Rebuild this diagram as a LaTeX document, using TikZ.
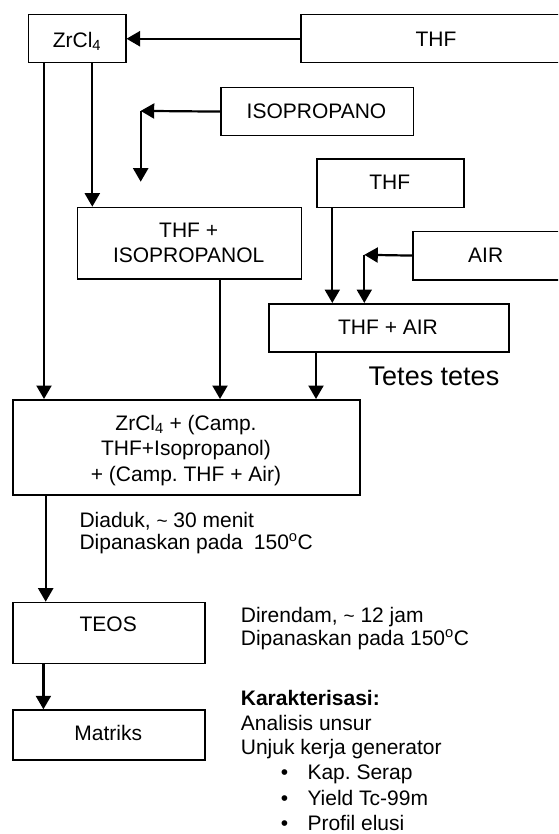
\documentclass[tikz,border=0pt]{standalone}
\usepackage{fontspec}
\setmainfont{Liberation Sans}
\usetikzlibrary{arrows.meta,calc}
\frenchspacing
\begin{document}
\begin{tikzpicture}[x=1pt,y=-1pt,
  box/.style={draw,line width=1.5pt,rectangle,inner sep=0pt,anchor=north west},
  txt/.style={inner sep=0pt,font=\fontsize{21}{24}\selectfont\frenchspacing},
  big/.style={inner sep=0pt,font=\fontsize{27}{30}\selectfont},
  arr/.style={line width=2.2pt,-{Triangle[width=15pt,length=13.5pt]}}]
\useasboundingbox (0,0) rectangle (558,834);
\clip (0,0) rectangle (558,834);

% boxes
\node[box,minimum width=97.3pt,minimum height=48pt] (zr) at (27.7,14) {};
\node[box,minimum width=290pt,minimum height=48pt] (thf) at (300,14) {};
\node[box,minimum width=192.8pt,minimum height=48.3pt] (iso) at (220,86.7) {};
\node[box,minimum width=147.3pt,minimum height=48.4pt] (thfb) at (316,158.3) {};
\node[box,minimum width=224pt,minimum height=71.6pt] (thiso) at (76.7,206.7) {};
\node[box,minimum width=180pt,minimum height=48.3pt] (air) at (412.3,230.7) {};
\node[box,minimum width=240pt,minimum height=48pt] (thair) at (268.3,303) {};
\node[box,minimum width=347pt,minimum height=95.3pt] (main) at (12.3,399) {};
\node[box,minimum width=191.7pt,minimum height=61pt] (teos) at (12.3,601.7) {};
\node[box,minimum width=191.7pt,minimum height=49.7pt] (mat) at (12.3,709.3) {};

% box texts
\node[txt,anchor=base] (zrt) at (77,47.7) {ZrCl\textsubscript{4}};
\node[txt,anchor=base] (thft) at (436,46.7) {THF};
\node[txt,anchor=base] (isot) at (316.5,118.3) {ISOPROPANO};
\node[txt,anchor=base] (thfbt) at (389.7,189.5) {THF};
\node[txt,anchor=base] (thisoa) at (188.7,237.3) {THF +};
\node[txt,anchor=base] (thisob) at (188.7,262.7) {ISOPROPANOL};
\node[txt,anchor=base] (airt) at (485.7,262.7) {AIR};
\node[txt,anchor=base] (thairt) at (388,334.5) {THF + AIR};
\node[txt,anchor=base] (maina) at (186,430) {ZrCl\textsubscript{4} + (Camp.};
\node[txt,anchor=base] (mainb) at (186,455.7) {THF+Isopropanol)};
\node[txt,anchor=base] (mainc) at (186,481) {+ (Camp. THF + Air)};
\node[txt,anchor=base] (teost) at (108.2,631.7) {TEOS};
\node[txt,anchor=base] (matt) at (108.2,740.7) {Matriks};

% free texts
\node[big,anchor=base west] (tetes) at (368.5,385) {Tetes tetes};
\node[txt,anchor=base west] (dia) at (79.3,527.3) {Diaduk, {\fontsize{19}{19}\selectfont\textasciitilde} 30 menit};
\node[txt,anchor=base west] (dipa) at (79.3,549) {Dipanaskan pada\hspace{11pt}150\textsuperscript{o}C};
\node[txt,anchor=base west] (dir) at (240.7,622.3) {Direndam, {\fontsize{19}{19}\selectfont\textasciitilde} 12 jam};
\node[txt,anchor=base west] (dipb) at (240.7,645.3) {Dipanaskan pada 150\textsuperscript{o}C};
\node[txt,anchor=base west,font=\fontsize{21}{24}\selectfont\bfseries] (kar) at (240.7,705) {Karakterisasi:};
\node[txt,anchor=base west] (ana) at (240.7,730) {Analisis unsur};
\node[txt,anchor=base west] (unj) at (240.7,754.3) {Unjuk kerja generator};
\node[txt,anchor=base] (b1) at (284.5,779.5) {\textbullet};
\node[txt,anchor=base] (b2) at (284.5,805.2) {\textbullet};
\node[txt,anchor=base] (b3) at (284.5,830.5) {\textbullet};
\node[txt,anchor=base west] (kap) at (307.3,779.5) {Kap. Serap};
\node[txt,anchor=base west] (yie) at (307.3,805.2) {Yield Tc-99m};
\node[txt,anchor=base west] (pro) at (307.3,830.5) {Profil elusi};

% connector helper coordinates
\coordinate (xa) at (44,0);
\coordinate (xb) at (92.3,0);
\coordinate (xd) at (220,0);
\coordinate (xe) at (332.3,0);
\coordinate (xg) at (316,0);
\coordinate (xh) at (45.7,0);
\coordinate (xi) at (43.4,0);
\coordinate (isoturn) at (140.7,110.9);
\coordinate (isoend) at (140.7,181.7);
\coordinate (airturn) at (364.3,254.8);

% connectors
\draw[arr] (thf.west) -- (zr.east);
\draw[arr] (iso.west) -- (isoturn);
\draw[arr] (isoturn) -- (isoend);
\draw[arr] (zr.south -| xa) -- (main.north -| xa);
\draw[arr] (zr.south -| xb) -- (thiso.north -| xb);
\draw[arr] (thiso.south -| xd) -- (main.north -| xd);
\draw[arr] (thfb.south -| xe) -- (thair.north -| xe);
\draw[arr] (air.west) -- (airturn);
\draw[arr] (airturn) -- (thair.north -| airturn);
\draw[arr] (thair.south -| xg) -- (main.north -| xg);
\draw[arr] (main.south -| xh) -- (teos.north -| xh);
\draw[arr] (teos.south -| xi) -- (mat.north -| xi);
\end{tikzpicture}
\end{document}
